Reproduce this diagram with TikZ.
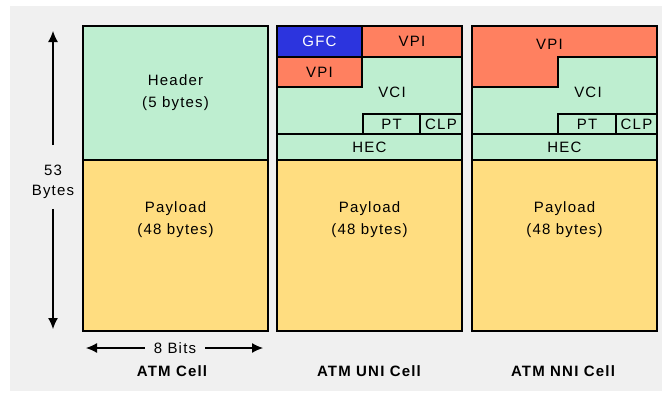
\documentclass[tikz,border=0pt]{standalone}
\usepackage{fontspec}
\setmainfont{Liberation Sans}[LetterSpace=8]
\usetikzlibrary{arrows.meta}

\definecolor{hdrgreen}{RGB}{190,238,208}
\definecolor{paygold}{RGB}{255,221,128}
\definecolor{vpired}{RGB}{255,128,96}
\definecolor{gfcblue}{RGB}{44,52,222}
\definecolor{bggray}{RGB}{240,240,240}

\tikzset{
  field/.style={draw, line width=1.3pt, inner sep=0pt, outer sep=0pt, align=center, font=\fontsize{15}{22}\selectfont},
  fieldtext/.style={inner sep=0pt, align=center, font=\fontsize{15}{22}\selectfont},
  caption/.style={font=\bfseries\fontsize{15}{18}\selectfont},
  bytearrow/.style={-{Latex[length=11pt,width=10pt]}, line width=1.2pt}
}

\begin{document}
\begin{tikzpicture}[x=1pt, y=-1pt]

  \useasboundingbox (0,0) rectangle (662,394);

  \fill[bggray] (10,6) rectangle (662,391);

  \node (hdr) at (175.5,93) [field, fill=hdrgreen, minimum width=185, minimum height=134] {Header\\(5 bytes)};

  \node (pay-atm) at (175.5,245.5) [field, fill=paygold, minimum width=185, minimum height=171] {};

  \node (pay-atm-txt) at (175.5,220) [fieldtext] {Payload\\(48 bytes)};

  \node (uni) at (369.5,93) [field, fill=hdrgreen, minimum width=185, minimum height=134] {};

  \node (gfc) at (319.5,41.5) [field, fill=gfcblue, text=white, minimum width=85, minimum height=31] {GFC};

  \node (vpi-uni) at (412,41.5) [field, fill=vpired, minimum width=100, minimum height=31] {VPI};

  \node (vpi-uni-low) at (319.5,72) [field, fill=vpired, minimum width=85, minimum height=30] {VPI};

  \node (vci-uni) at (392,92) [fieldtext] {VCI};

  \node (pt-uni) at (391.5,124) [field, minimum width=57, minimum height=20] {PT};

  \node (clp-uni) at (441,124) [field, minimum width=42, minimum height=20] {CLP};

  \node (hec-uni) at (369.5,147) [field, minimum width=185, minimum height=26] {HEC};

  \node (pay-uni) at (369.5,245.5) [field, fill=paygold, minimum width=185, minimum height=171] {};

  \node (pay-uni-txt) at (369.5,220) [fieldtext] {Payload\\(48 bytes)};

  \node (nni) at (564.5,93) [field, fill=hdrgreen, minimum width=185, minimum height=134] {};

  \filldraw[fill=vpired, line width=1.3pt] (472,26) -- (657,26) -- (657,57) -- (558,57) -- (558,87) -- (472,87) -- cycle;

  \node (vpi-nni) at (549.5,44) [fieldtext] {VPI};

  \node (vci-nni) at (588,92) [fieldtext] {VCI};

  \node (pt-nni) at (587,124) [field, minimum width=58, minimum height=20] {PT};

  \node (clp-nni) at (636.5,124) [field, minimum width=41, minimum height=20] {CLP};

  \node (hec-nni) at (564.5,147) [field, minimum width=185, minimum height=26] {HEC};

  \node (pay-nni) at (564.5,245.5) [field, fill=paygold, minimum width=185, minimum height=171] {};

  \node (pay-nni-txt) at (564.5,220) [fieldtext] {Payload\\(48 bytes)};

  \node (bytes) at (53,182) [fieldtext, font=\fontsize{15}{20}\selectfont] {53\\Bytes};

  \coordinate (bytes-top) at (53,31);

  \coordinate (bytes-bot) at (53,329);

  \draw[bytearrow, shorten <=20pt] (bytes.north) -- (bytes-top);

  \draw[bytearrow, shorten <=10pt] (bytes.south) -- (bytes-bot);

  \node (bits) at (175,348) [fieldtext, inner xsep=9pt] {8 Bits};

  \coordinate (bits-left) at (86,348);

  \coordinate (bits-right) at (263,348);

  \draw[bytearrow] (bits) -- (bits-left);

  \draw[bytearrow] (bits) -- (bits-right);

  \node (cap-atm) at (172,371) [caption] {ATM Cell};

  \node (cap-uni) at (369,371) [caption] {ATM UNI Cell};

  \node (cap-nni) at (563,371) [caption] {ATM NNI Cell};

\end{tikzpicture}
\end{document}
